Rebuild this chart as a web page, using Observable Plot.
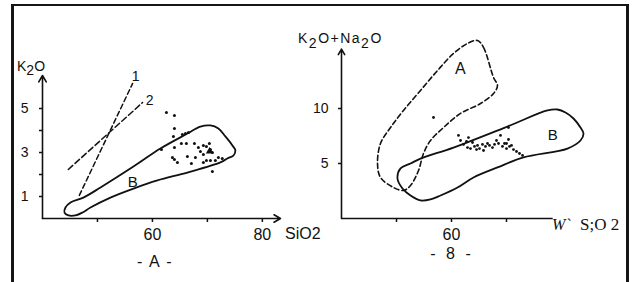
<!DOCTYPE html>
<html>
<head>
<meta charset="utf-8">
<script src="https://cdn.jsdelivr.net/npm/d3@7"></script>
<script src="https://cdn.jsdelivr.net/npm/@observablehq/plot@0.6"></script>
<style>
  body { margin: 0; background: #fff; }
  #wrap { position: relative; width: 640px; height: 282px; overflow: hidden; background: #fff; }
  #frame { position: absolute; left: 11px; top: 4px; width: 612px; height: 300px;
           border-top: 2px solid #161616; border-left: 3px solid #161616; border-right: 3px solid #161616; }
  .panel { position: absolute; top: 0; }
  #overlay { position: absolute; left: 0; top: 0; pointer-events: none; }
</style>
</head>
<body>
<div id="wrap">
  <div id="frame"></div>
  <div id="panelA" class="panel" style="left:0px"></div>
  <div id="panelB" class="panel" style="left:320px"></div>
</div>
<script>
// ---------- Panel A: K2O vs SiO2 ----------
const xTicksA = [50, 60, 70, 80];
const xLabelsA = [60, 80];
const yTicksA = [1, 2, 3, 4, 5];
const yLabelsA = [1, 3, 5];
const xAxisEndA = 83.3;
const yAxisEndA = 6.5;

// outline of field B (solid)
const fieldA_B = [
  [44.0,0.27],[44.18,0.5],[45.09,0.73],[47.45,0.95],[50.55,1.41],[56.55,2.36],[61.45,3.18],
  [66.36,3.86],[68.73,4.18],[70.55,4.23],[72.0,4.09],[73.27,3.73],[74.55,3.32],[75.09,3.09],
  [74.73,2.86],[73.64,2.73],[72.36,2.55],[66.36,2.09],[60.91,1.73],[56.55,1.36],[52.36,0.95],
  [48.73,0.5],[47.27,0.27],[46.0,0.14],[44.73,0.14]
];
// dashed reference lines 1 and 2
const line1 = [[46.7,1.05],[56.4,6.14]];
const line2 = [[44.7,2.23],[58.2,5.27]];
const lineNames = ["1", "2"];
// samples
const samplesA = [
  [62.55,4.82],[64.0,4.68],[64.0,4.09],[63.82,3.73],[65.45,3.82],[66.0,3.86],[66.55,3.91],
  [61.64,3.14],[65.27,3.41],[66.18,3.41],[67.64,3.41],[64.0,3.23],[66.36,2.82],[67.82,2.77],
  [63.64,2.77],[64.0,2.68],[64.55,2.55],[67.09,2.5],[68.73,3.05],[69.27,2.91],[69.82,3.27],
  [70.36,3.41],[70.55,3.14],[70.91,3.0],[69.82,2.64],[70.55,2.64],[71.45,2.64],[69.27,2.55],
  [70.91,2.14],[68.36,3.23],[69.27,3.32],[72.0,2.77],[72.7,2.73]
];
const triangleA = [[70.4,3.05]];
const regionLabelsA = [{name: "B", x: 56.4, y: 1.64}];

// ---------- Panel B: K2O+Na2O vs SiO2 ----------
const xTicksB = [50, 60, 70];
const xLabelsB = [60];
const yTicksB = [5, 10];
const yLabelsB = [5, 10];
const xAxisEndB = 78.4;
const yAxisEndB = 15.4;

// field A (dashed)
const fieldB_A = [
  [64.73,16.18],[65.82,15.55],[67.64,12.82],[68.36,12.09],[67.64,11.36],[65.27,10.45],
  [61.64,9.55],[58.55,8.27],[56.18,7.09],[54.91,5.91],[54.0,4.36],[52.55,3.0],[51.27,2.55],
  [49.45,2.82],[47.09,3.73],[46.55,5.0],[47.09,6.82],[48.91,8.27],[51.27,9.82],[54.36,11.64],
  [57.45,13.45],[60.36,15.0],[62.91,15.91]
];
// field B (solid)
const fieldB_B = [
  [50.18,3.64],[50.73,4.55],[52.55,5.0],[54.36,5.45],[60.36,6.45],[70.18,8.36],[77.45,9.82],
  [79.27,9.91],[80.73,9.64],[82.18,9.09],[83.45,8.27],[84.0,7.73],[83.45,7.09],[81.09,6.36],
  [73.09,5.55],[68.36,4.64],[64.0,3.73],[61.09,2.82],[58.0,2.09],[56.18,1.73],[54.36,1.64],
  [52.55,2.09],[51.09,2.73]
];
const samplesB = [
  [61.27,7.55],[63.09,7.36],[62.18,6.73],[62.91,6.45],[63.45,6.36],[64.55,6.27],[65.09,6.36],
  [65.64,6.73],[65.82,6.18],[66.55,6.82],[66.91,6.64],[67.45,6.45],[68.18,7.09],[68.91,7.55],
  [68.55,6.82],[69.27,6.55],[69.64,6.82],[70.0,6.36],[70.36,7.18],[70.91,6.64],[71.27,6.27],
  [71.82,6.09],[72.36,5.91],[64.73,6.64],[63.82,6.91],[56.73,9.18],[70.36,8.27],[72.91,5.73],
  [64.18,6.55],[66.18,6.55],[67.82,6.73],[70.0,6.82],[70.55,6.55],[61.64,7.09],[62.73,7.0]
];
const regionLabelsB = [{name: "A", x: 61.6, y: 13.6}, {name: "B", x: 78.4, y: 7.55}];

const INK = "#111";
const FONT = "'Liberation Sans', Arial, sans-serif";

const plotA = Plot.plot({
  width: 320, height: 282,
  marginLeft: 42, marginRight: 40, marginTop: 75, marginBottom: 64,
  x: {domain: [40, xAxisEndA]},
  y: {domain: [0, yAxisEndA]},
  style: {fontFamily: FONT, background: "transparent", overflow: "visible", color: INK},
  marks: [
    Plot.arrow([{x1: 40, y1: 0, x2: xAxisEndA, y2: 0}], {x1: "x1", y1: "y1", x2: "x2", y2: "y2", stroke: INK, strokeWidth: 1.6, headLength: 7}),
    Plot.arrow([{x1: 40, y1: 0, x2: 40, y2: yAxisEndA}], {x1: "x1", y1: "y1", x2: "x2", y2: "y2", stroke: INK, strokeWidth: 1.6, headLength: 7}),
    Plot.axisX(xTicksA, {tickSize: 4, tickPadding: 6, fontSize: 16, stroke: INK, fill: INK, strokeWidth: 1.5,
      tickFormat: d => xLabelsA.includes(d) ? String(d) : "", label: null}),
    Plot.axisY(yTicksA, {tickSize: 3, tickPadding: 11, fontSize: 14, stroke: INK, fill: INK, strokeWidth: 1.5,
      tickFormat: d => yLabelsA.includes(d) ? String(d) : "", label: null}),
    Plot.line(fieldA_B, {x: d => d[0], y: d => d[1], curve: "catmull-rom-closed", stroke: INK, strokeWidth: 1.8}),
    Plot.line(line1, {x: d => d[0], y: d => d[1], stroke: INK, strokeWidth: 1.5, strokeDasharray: "5,3"}),
    Plot.line(line2, {x: d => d[0], y: d => d[1], stroke: INK, strokeWidth: 1.5, strokeDasharray: "6,3"}),
    Plot.text([line1[1]], {x: d => d[0], y: d => d[1], text: () => lineNames[0], dx: 3, dy: -7, fontSize: 14, fill: INK}),
    Plot.text([line2[1]], {x: d => d[0], y: d => d[1], text: () => lineNames[1], dx: 7, dy: -2, fontSize: 14, fill: INK}),
    Plot.dot(samplesA, {x: d => d[0], y: d => d[1], r: 1.5, fill: INK, stroke: null}),
    Plot.dot(triangleA, {x: d => d[0], y: d => d[1], symbol: "triangle", r: 2.8, fill: INK, stroke: null}),
    Plot.text(regionLabelsA, {x: "x", y: "y", text: "name", fontSize: 15, fill: INK})
  ]
});
document.getElementById("panelA").append(plotA);

const plotB = Plot.plot({
  width: 320, height: 282,
  marginLeft: 21, marginRight: 24, marginTop: 42, marginBottom: 64,
  x: {domain: [40, 90]},
  y: {domain: [0, 16]},
  style: {fontFamily: FONT, background: "transparent", overflow: "visible", color: INK},
  marks: [
    Plot.link([{x1: 40, y1: 0, x2: xAxisEndB, y2: 0}], {x1: "x1", y1: "y1", x2: "x2", y2: "y2", stroke: INK, strokeWidth: 1.6}),
    Plot.arrow([{x1: 40, y1: 0, x2: 40, y2: yAxisEndB}], {x1: "x1", y1: "y1", x2: "x2", y2: "y2", stroke: INK, strokeWidth: 1.6, headLength: 6}),
    Plot.axisX(xTicksB, {tickSize: 4, tickPadding: 6, fontSize: 16, stroke: INK, fill: INK, strokeWidth: 1.5,
      tickFormat: d => xLabelsB.includes(d) ? String(d) : "", label: null}),
    Plot.axisY(yTicksB, {tickSize: 3, tickPadding: 10, fontSize: 14, stroke: INK, fill: INK, strokeWidth: 1.5,
      tickFormat: d => yLabelsB.includes(d) ? String(d) : "", label: null}),
    Plot.line(fieldB_A, {x: d => d[0], y: d => d[1], curve: "catmull-rom-closed", stroke: INK, strokeWidth: 1.6, strokeDasharray: "5,3"}),
    Plot.line(fieldB_B, {x: d => d[0], y: d => d[1], curve: "catmull-rom-closed", stroke: INK, strokeWidth: 1.8}),
    Plot.dot(samplesB, {x: d => d[0], y: d => d[1], r: 1.4, fill: INK, stroke: null}),
    Plot.text(regionLabelsB, {x: "x", y: "y", text: "name", fontSize: d => d.name === "A" ? 16 : 15, fill: INK})
  ]
});
document.getElementById("panelB").append(plotB);

// ---------- axis titles and panel captions ----------
const overlay = d3.select("#wrap").append("svg")
  .attr("id", "overlay").attr("width", 640).attr("height", 282)
  .style("font-family", FONT).style("white-space", "pre");

function sub(x, y, parts, size, spacing) {
  const t = overlay.append("text").attr("x", x).attr("y", y)
    .attr("font-size", size).attr("fill", INK).attr("letter-spacing", spacing || 0);
  parts.forEach(([s, shift]) => {
    t.append("tspan").attr("dy", shift).text(s);
  });
  return t;
}
// K2O (panel A)
sub(17, 71, [["K", 0], ["2", 4], ["O", -4]], 14, 0);
// SiO2 (panel A)
overlay.append("text").attr("x", 285).attr("y", 239).attr("font-size", 16).attr("fill", INK).text("SiO2");
// - A -
overlay.append("text").attr("x", 155).attr("y", 267).attr("font-size", 16).attr("text-anchor", "middle")
  .attr("fill", INK).attr("letter-spacing", 1.5).text("- A -");
// K2O+Na2O (panel B)
sub(298, 43, [["K", 0], ["2", 5], ["O+Na", -5], ["2", 5], ["O", -5]], 14, 1.5);
// W` S;O2 (panel B x-axis tail as in the scan)
overlay.append("text").attr("x", 552).attr("y", 230).attr("font-size", 16)
  .attr("font-family", "'Liberation Serif', serif").attr("font-style", "italic").attr("fill", INK).text("W`");
overlay.append("text").attr("x", 580).attr("y", 230).attr("font-size", 17)
  .attr("font-family", "'Liberation Serif', serif").attr("fill", INK).text("S;O 2");
// - 8 -
overlay.append("text").attr("x", 452).attr("y", 259).attr("font-size", 16).attr("text-anchor", "middle")
  .attr("fill", INK).attr("letter-spacing", 3).text("- 8 -");
</script>
</body>
</html>
